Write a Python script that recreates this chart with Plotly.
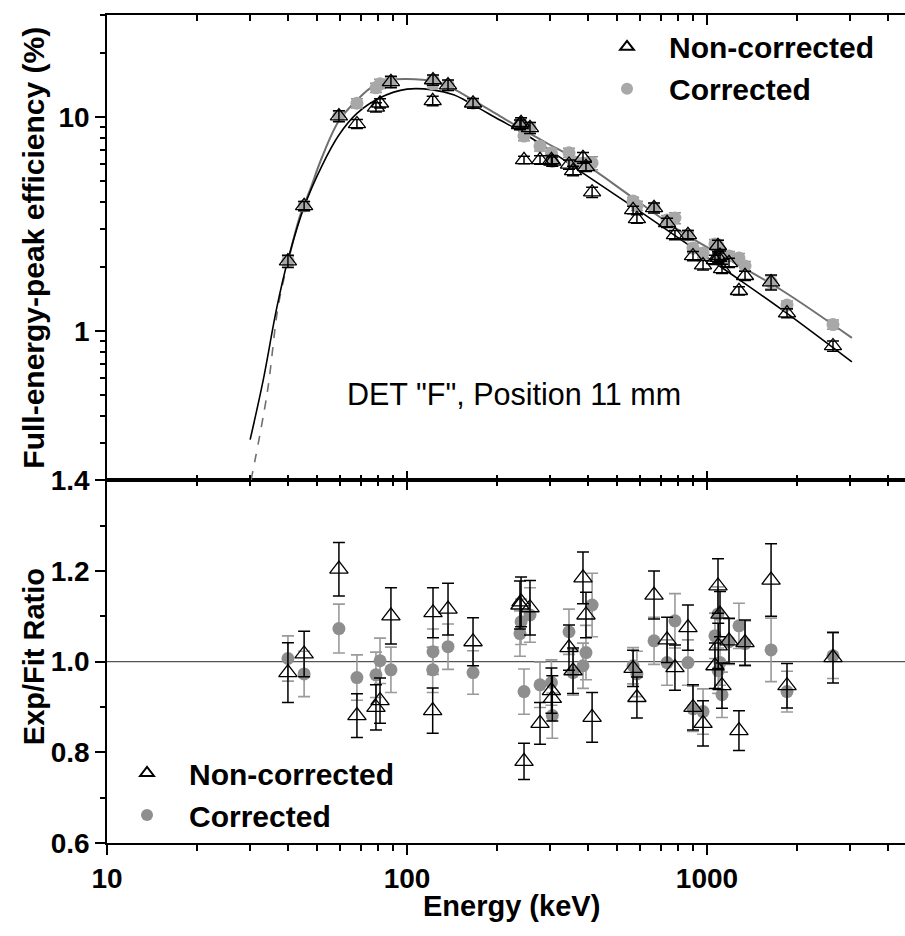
import math
import plotly.graph_objects as go

# ---------------- data ----------------
energy = [40.1, 45.4, 59.3, 68.1, 78.8, 81.3, 88.4, 121.8, 122.1, 137, 166,
          238, 240, 245.5, 257, 277.6, 303, 305, 346.7, 357.6, 386, 395, 414,
          567, 584, 666, 736, 782, 864, 898, 970, 1063, 1088, 1090, 1105, 1122,
          1184, 1278, 1339, 1635, 1848, 2630]

eff_nc = [2.12, 3.84, 10.1, 9.28, 11.1, 11.6, 14.6, 11.9, 14.9, 14.1, 11.6,
          9.2, 9.4, 6.3, 8.9, 6.3, 6.3, 6.2, 6.0, 5.6, 6.45, 5.85, 4.45,
          3.68, 3.34, 3.76, 3.2, 2.81, 2.81, 2.24, 2.03, 2.15, 2.5, 2.2, 2.25, 1.95,
          2.08, 1.54, 1.81, 1.69, 1.21, 0.85]

eff_c = [2.12, 3.84, 10.1, 11.6, 13.7, 14.3, 14.6, 14.3, 14.9, 14.1, 11.6,
         9.2, 9.4, 8.15, 8.9, 7.3, 6.8, 6.2, 6.8, 6.2, 6.1, 6.0, 6.1,
         4.05, 3.85, 3.76, 3.3, 3.37, 2.81, 2.44, 2.31, 2.55, 2.5, 2.25, 2.3, 2.15,
         2.24, 2.19, 2.01, 1.69, 1.32, 1.07]

ratio_nc = [0.976, 1.017, 1.204, 0.881, 0.899, 0.914, 1.101, 0.892, 1.108, 1.116, 1.044,
            1.125, 1.132, 0.780, 1.119, 0.864, 0.936, 0.919, 1.031, 0.980, 1.185, 1.103, 0.877,
            0.985, 0.921, 1.147, 1.048, 0.987, 1.075, 0.899, 0.864, 0.991, 1.167, 1.035, 1.105, 0.947,
            1.046, 0.848, 1.042, 1.180, 0.947, 1.009]

ratio_c = [1.007, 0.973, 1.073, 0.965, 0.971, 1.002, 0.982, 0.982, 1.022, 1.033, 0.976,
           1.062, 1.088, 0.934, 1.103, 0.949, 0.954, 0.881, 1.066, 0.976, 0.991, 1.020, 1.125,
           0.991, 0.973, 1.046, 0.998, 1.090, 0.998, 0.896, 0.890, 1.057, 1.105, 0.980, 0.998, 0.927,
           1.044, 1.079, 1.040, 1.026, 0.934, 1.013]

err_nc = [0.066, 0.05, 0.059, 0.048, 0.05, 0.05, 0.062, 0.05, 0.055, 0.057, 0.053,
          0.053, 0.055, 0.04, 0.06, 0.046, 0.05, 0.05, 0.05, 0.05, 0.057, 0.05, 0.055,
          0.04, 0.045, 0.053, 0.05, 0.05, 0.05, 0.05, 0.05, 0.05, 0.06, 0.05, 0.05, 0.05,
          0.05, 0.044, 0.05, 0.08, 0.049, 0.056]

err_c = [0.05, 0.05, 0.054, 0.05, 0.05, 0.05, 0.05, 0.05, 0.05, 0.05, 0.048,
         0.05, 0.05, 0.05, 0.06, 0.05, 0.05, 0.05, 0.05, 0.05, 0.05, 0.06, 0.07,
         0.04, 0.05, 0.052, 0.05, 0.06, 0.05, 0.05, 0.05, 0.05, 0.06, 0.05, 0.05, 0.05,
         0.05, 0.05, 0.05, 0.07, 0.045, 0.05]

# fitted efficiency curves
fit_energy_nc = [30, 33.1, 36.8, 40.1, 45.4, 52, 59.3, 68.1, 81.3, 100, 122, 143, 166,
                 204, 238, 292, 386, 560, 832, 1200, 1786, 3041]
fit_nc = [0.31, 0.58, 1.28, 2.15, 3.8, 5.9, 8.24, 10.4, 12.3, 13.5, 13.4, 12.7, 11.4,
          9.68, 8.6, 7.16, 5.47, 3.85, 2.63, 1.85, 1.25, 0.716]

fit_energy_c_low = [30.2, 34.2, 37.2, 40.1]
fit_c_low = [0.2, 0.513, 1.3, 2.1]

fit_energy_c = [40.1, 44, 47.5, 52, 59.3, 68.1, 77.1, 87.6, 100, 122, 143, 166, 204,
                238, 292, 386, 560, 832, 1200, 1786, 3041]
fit_c = [2.1, 3.45, 4.56, 6.45, 9.6, 12.0, 13.96, 14.9, 15.06, 14.7, 13.5, 12.0, 10.1,
         8.89, 7.56, 6.1, 4.24, 2.87, 2.13, 1.54, 0.927]

# ---------------- styling ----------------
FONT = "Liberation Sans, Arial, Helvetica, sans-serif"
C_TOP = "#a8a8a8"
C_BOT = "#8e8e8e"
C_FIT_C = "#707070"

eff_nc_err = [v * e for v, e in zip(eff_nc, err_nc)]
eff_c_err = [v * e for v, e in zip(eff_c, err_c)]
ratio_nc_err = [e for e in err_nc]
ratio_c_err = [e for e in err_c]

fig = go.Figure()

# ---- top panel ----
fig.add_trace(go.Scatter(x=fit_energy_c_low, y=fit_c_low, mode="lines", xaxis="x2", yaxis="y2",
                         line=dict(color=C_FIT_C, width=1.6, dash="dash", shape="spline"),
                         showlegend=False, hoverinfo="skip"))
fig.add_trace(go.Scatter(x=fit_energy_c, y=fit_c, mode="lines", xaxis="x2", yaxis="y2",
                         line=dict(color=C_FIT_C, width=2, shape="spline"),
                         showlegend=False, hoverinfo="skip"))
fig.add_trace(go.Scatter(x=fit_energy_nc, y=fit_nc, mode="lines", xaxis="x2", yaxis="y2",
                         line=dict(color="black", width=1.6, shape="spline"),
                         showlegend=False, hoverinfo="skip"))
fig.add_trace(go.Scatter(x=energy, y=eff_c, mode="markers", xaxis="x2", yaxis="y2",
                         name="Corrected", legend="legend", legendrank=2,
                         marker=dict(symbol="circle", size=13, color=C_TOP, line=dict(width=0)),
                         error_y=dict(type="data", array=eff_c_err, color="#909090",
                                      thickness=1.5, width=6)))
fig.add_trace(go.Scatter(x=energy, y=eff_nc, mode="markers", xaxis="x2", yaxis="y2",
                         name="Non-corrected", legend="legend", legendrank=1,
                         marker=dict(symbol="triangle-up-open", size=15, color="black",
                                     line=dict(width=1.3, color="black")),
                         error_y=dict(type="data", array=eff_nc_err, color="black",
                                      thickness=1.5, width=6)))

# ---- bottom panel ----
fig.add_trace(go.Scatter(x=energy, y=ratio_c, mode="markers", xaxis="x", yaxis="y",
                         name="Corrected", legend="legend2", legendrank=2,
                         marker=dict(symbol="circle", size=13, color=C_BOT, line=dict(width=0)),
                         error_y=dict(type="data", array=ratio_c_err, color="#9a9a9a",
                                      thickness=1.6, width=6)))
fig.add_trace(go.Scatter(x=energy, y=ratio_nc, mode="markers", xaxis="x", yaxis="y",
                         name="Non-corrected", legend="legend2", legendrank=1,
                         marker=dict(symbol="triangle-up-open", size=16, color="black",
                                     line=dict(width=1.3, color="black")),
                         error_y=dict(type="data", array=ratio_nc_err, color="black",
                                      thickness=1.5, width=6)))

# helper traces so the extra tick-only axes are drawn
fig.add_trace(go.Scatter(x=[], y=[], xaxis="x3", yaxis="y", showlegend=False, hoverinfo="skip"))
fig.add_trace(go.Scatter(x=[], y=[], xaxis="x4", yaxis="y2", showlegend=False, hoverinfo="skip"))

XR = [1, 3.66]
tickfont = dict(family=FONT, size=28, color="black", weight="bold")

def xax(**kw):
    d = dict(type="log", range=XR, showgrid=False, zeroline=False, showline=True,
             linecolor="black", linewidth=1.5, dtick=1, tickwidth=1.5, tickcolor="black",
             ticklen=10)
    d.update(kw)
    return d

split = 0.438
legfont = dict(family=FONT, size=30, color="black", weight="bold")

fig.update_layout(
    width=905, height=936,
    margin=dict(l=107, r=0, t=12, b=93),
    plot_bgcolor="white", paper_bgcolor="white",
    font=dict(family=FONT, color="black"),
    xaxis=xax(anchor="y", ticks="outside", tickfont=tickfont,
              minor=dict(dtick="D1", ticks="outside", ticklen=6, tickwidth=1.5, tickcolor="black")),
    xaxis2=xax(anchor="y2", matches="x", showticklabels=False, ticks="inside",
               minor=dict(dtick="D1", ticks="inside", ticklen=6, tickwidth=1.5, tickcolor="black")),
    xaxis3=xax(anchor="y", overlaying="x", side="top", showticklabels=False, ticks="inside",
               minor=dict(dtick="D1", ticks="inside", ticklen=6, tickwidth=1.5, tickcolor="black")),
    xaxis4=xax(anchor="y2", overlaying="x2", side="top", showticklabels=False, ticks="inside",
               minor=dict(dtick="D1", ticks="inside", ticklen=6, tickwidth=1.5, tickcolor="black")),
    yaxis=dict(domain=[0, split], range=[0.6, 1.4], tick0=0.6, dtick=0.2, tickformat=".1f",
               showgrid=False, zeroline=False, showline=True, linecolor="black", linewidth=1.5,
               ticks="outside", ticklen=10, tickwidth=1.5, tickcolor="black", tickfont=tickfont,
               minor=dict(dtick=0.1, ticks="outside", ticklen=5, tickwidth=1.5, tickcolor="black")),
    yaxis2=dict(domain=[split, 1], type="log", range=[math.log10(0.2), math.log10(30)], dtick=1,
                showgrid=False, zeroline=False, showline=True, linecolor="black", linewidth=1.5,
                ticks="outside", ticklen=10, tickwidth=1.5, tickcolor="black", tickfont=tickfont,
                minor=dict(dtick="D1", ticks="outside", ticklen=5, tickwidth=1.5, tickcolor="black")),
    legend=dict(x=0.599, y=0.993, xanchor="left", yanchor="top", bgcolor="rgba(0,0,0,0)",
                font=legfont, itemsizing="constant", itemwidth=74, tracegroupgap=0),
    legend2=dict(x=-0.0025, y=0.116, xanchor="left", yanchor="top", bgcolor="rgba(0,0,0,0)",
                 font=legfont, itemsizing="constant", itemwidth=74, tracegroupgap=0),
    shapes=[dict(type="line", xref="x domain", x0=0, x1=1, yref="y", y0=1, y1=1,
                 line=dict(color="#555555", width=1.2), layer="below")],
    annotations=[
        dict(text='DET "F", Position 11 mm', xref="x2 domain", yref="y2 domain",
             x=0.51, y=0.186, showarrow=False, xanchor="center", yanchor="middle",
             font=dict(family=FONT, size=30.5, color="black")),
        dict(text="Full-energy-peak efficiency (%)", xref="paper", yref="paper",
             x=-0.0915, y=split + (1 - split) / 2, textangle=-90, showarrow=False,
             xanchor="center", yanchor="middle",
             font=dict(family=FONT, size=30, color="black", weight="bold")),
        dict(text="Exp/Fit Ratio", xref="paper", yref="paper",
             x=-0.0915, y=0.2256, textangle=-90, showarrow=False,
             xanchor="center", yanchor="middle",
             font=dict(family=FONT, size=29, color="black", weight="bold")),
        dict(text="Energy (keV)", xref="paper", yref="paper",
             x=0.5075, y=-0.0758, showarrow=False, xanchor="center", yanchor="middle",
             font=dict(family=FONT, size=29, color="black", weight="bold")),
    ],
)

fig.write_html("out.html")
